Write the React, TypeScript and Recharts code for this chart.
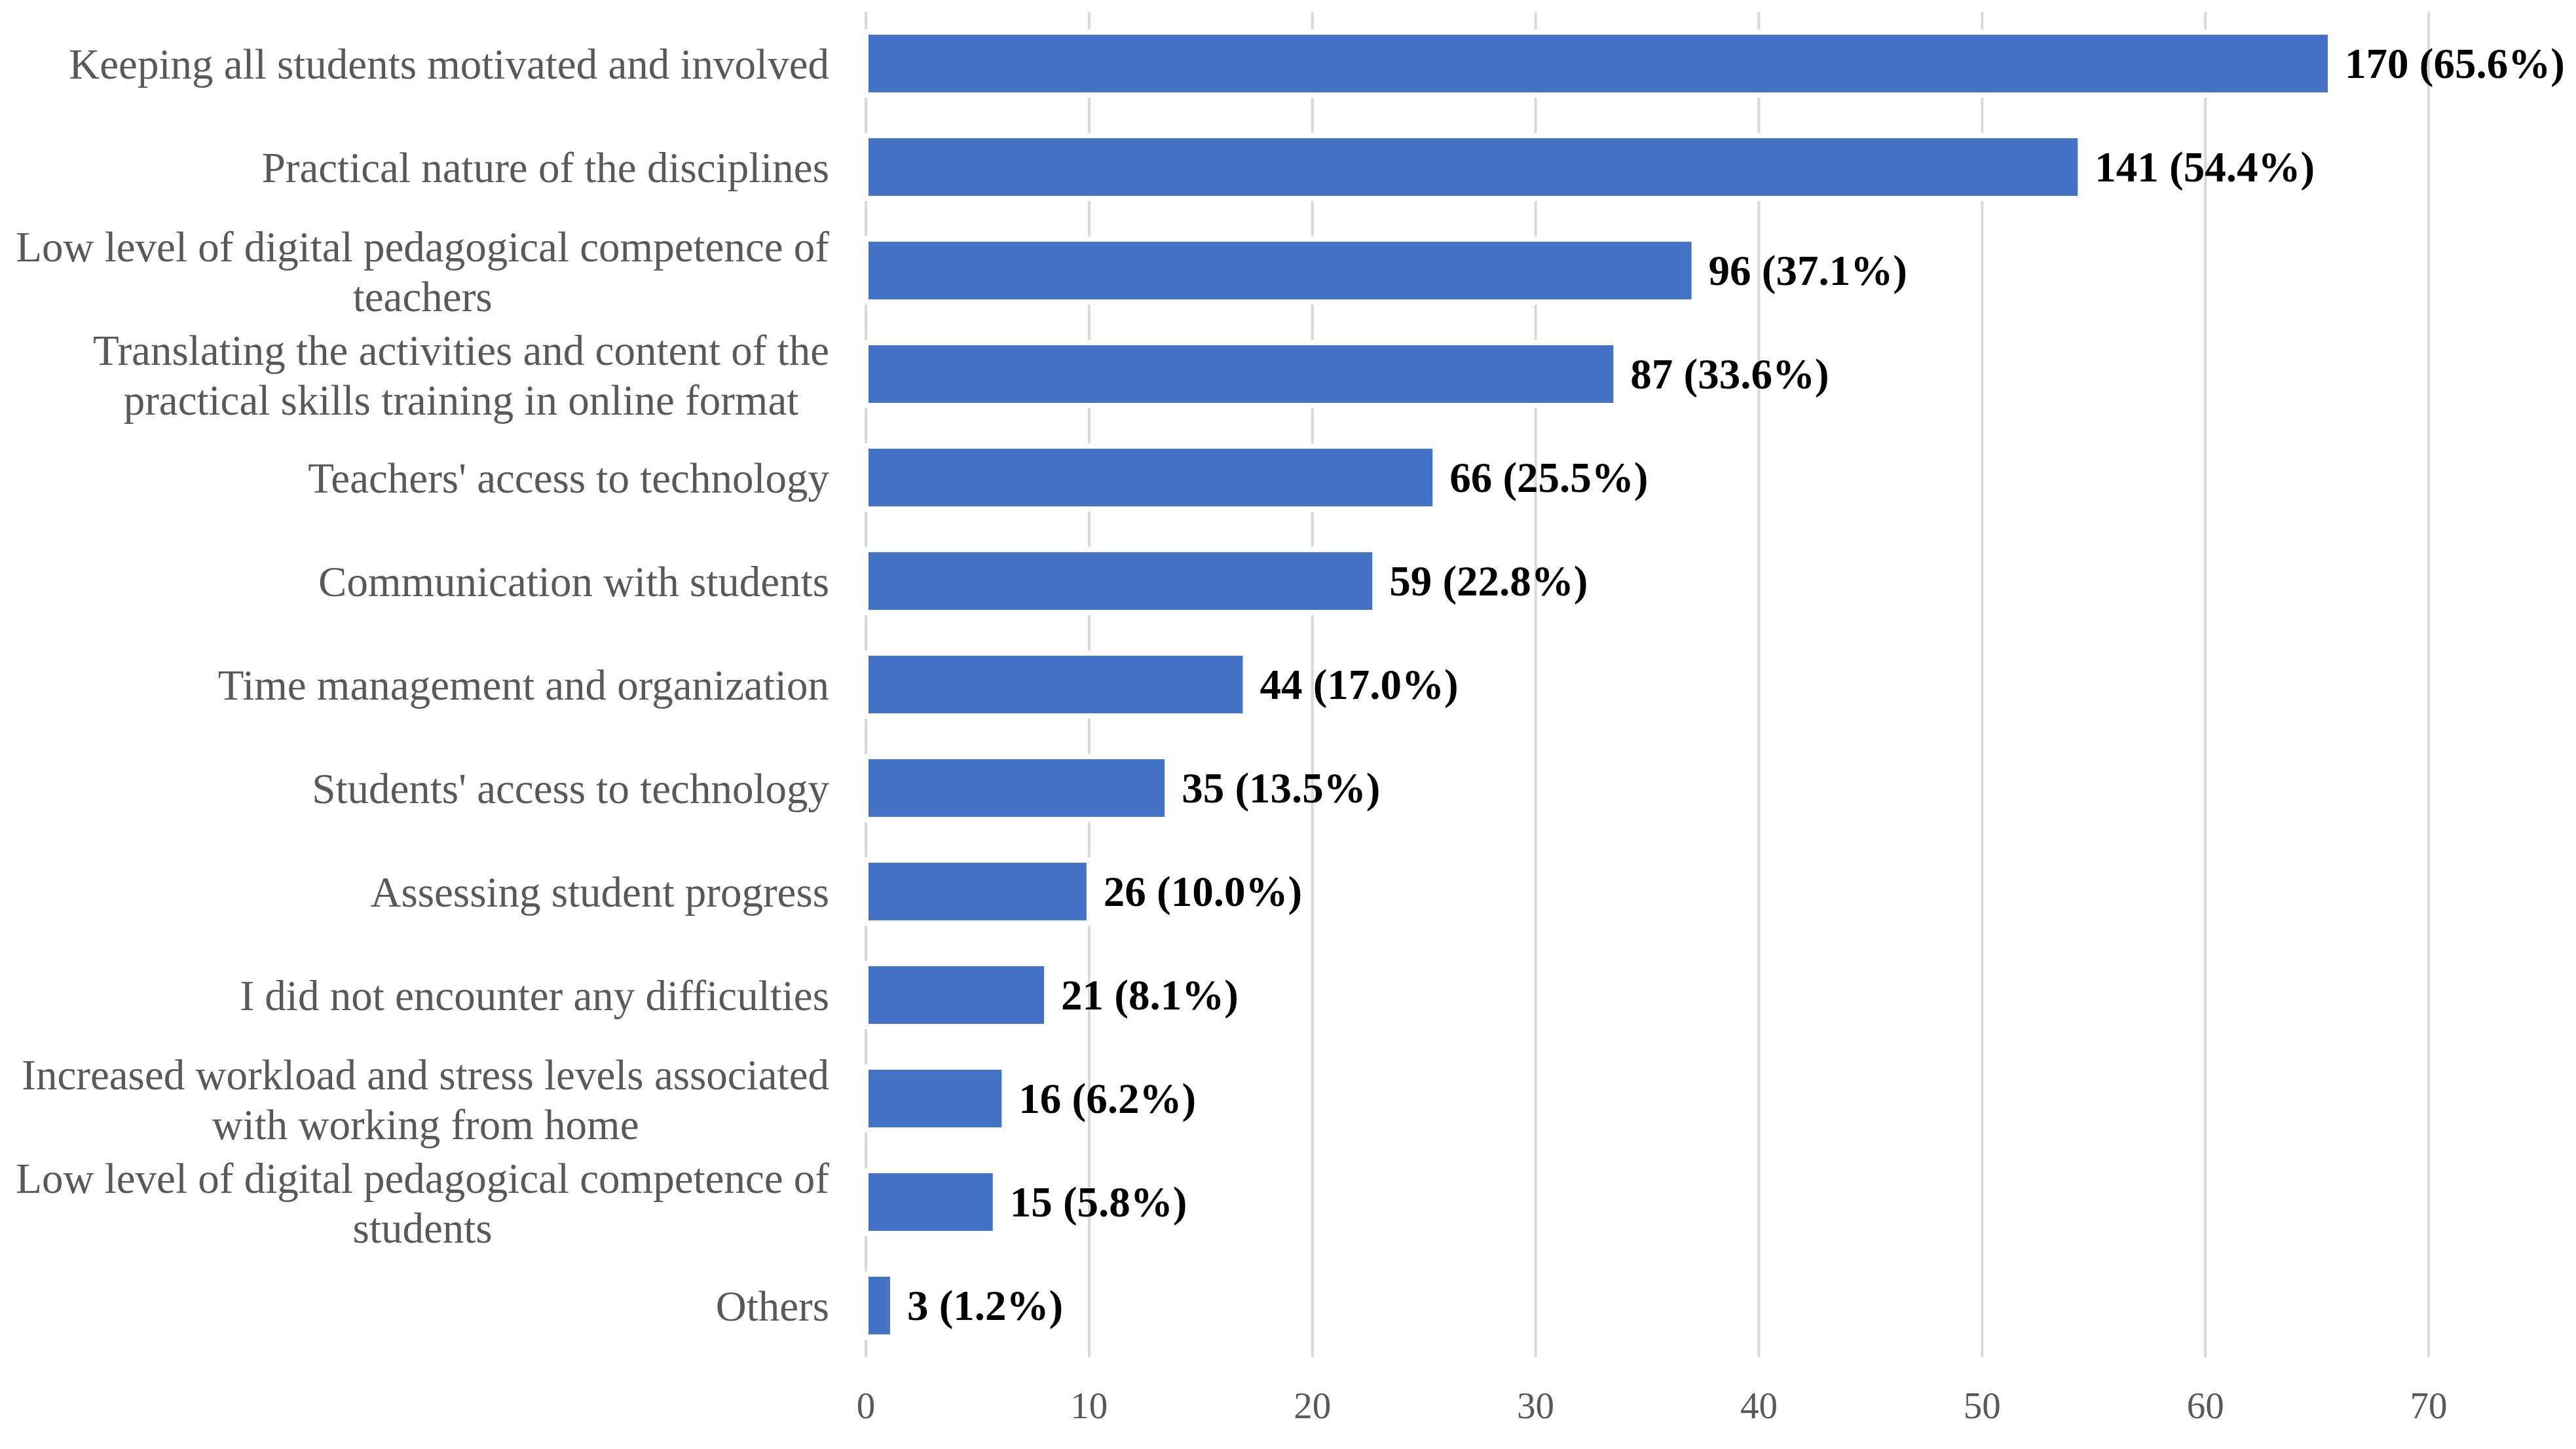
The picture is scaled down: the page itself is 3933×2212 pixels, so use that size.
import React from "react";
import { BarChart, Bar, XAxis, YAxis, CartesianGrid, LabelList } from "recharts";

const categories = [
  "Keeping all students motivated and involved",
  "Practical nature of the disciplines",
  "Low level of digital pedagogical competence of\nteachers",
  "Translating the activities and content of the\npractical skills training in online format",
  "Teachers' access to technology",
  "Communication with students",
  "Time management and organization",
  "Students' access to technology",
  "Assessing student progress",
  "I did not encounter any difficulties",
  "Increased workload and stress levels associated\nwith working from home",
  "Low level of digital pedagogical competence of\nstudents",
  "Others",
];
const counts = [170, 141, 96, 87, 66, 59, 44, 35, 26, 21, 16, 15, 3];
const percents = [65.6, 54.4, 37.1, 33.6, 25.5, 22.8, 17.0, 13.5, 10.0, 8.1, 6.2, 5.8, 1.2];
const xTicks = [0, 10, 20, 30, 40, 50, 60, 70];

const data = categories.map((name, i) => ({
  name,
  pct: percents[i],
  label: `${counts[i]} (${percents[i].toFixed(1)}%)`,
}));

const FONT = '"Liberation Serif", "Times New Roman", serif';
const CAT_SIZE = 65;

let ctx: CanvasRenderingContext2D | null = null;
function textWidth(s: string) {
  if (!ctx) ctx = document.createElement("canvas").getContext("2d");
  if (!ctx) return s.length * CAT_SIZE * 0.42;
  ctx.font = `${CAT_SIZE}px ${FONT}`;
  return ctx.measureText(s).width;
}

function CategoryTick(props: any) {
  const { x, y, payload } = props;
  const lines = String(payload.value).split("\n");
  const lineH = 76;
  const style = { fontFamily: FONT, fontSize: CAT_SIZE, fill: "#595959" };
  if (lines.length === 1) {
    return (
      <text x={x} y={y} dy={1} textAnchor="end" dominantBaseline="central" style={style}>
        {lines[0]}
      </text>
    );
  }
  const w = Math.max(...lines.map(textWidth));
  const cx = x - w / 2;
  return (
    <g>
      {lines.map((l, i) => (
        <text
          key={i}
          x={cx}
          y={y + (i - (lines.length - 1) / 2) * lineH}
          dy={2}
          textAnchor="middle"
          dominantBaseline="central"
          style={style}
        >
          {l}
        </text>
      ))}
    </g>
  );
}

function ValueLabel(props: any) {
  const { x, y, width, height, value } = props;
  return (
    <text
      x={x + width + 22}
      y={y + height / 2}
      dominantBaseline="central"
      style={{ fontFamily: FONT, fontSize: 65, fontWeight: "bold", fill: "#000000" }}
    >
      {value}
    </text>
  );
}

export default function App() {
  return (
    <div style={{ position: "absolute", left: 0, top: 0, background: "#ffffff" }}>
      <BarChart
        width={3933}
        height={2212}
        data={data}
        layout="vertical"
        margin={{ top: 18, right: 225, bottom: 110, left: 0 }}
        barSize={96}
      >
        <CartesianGrid horizontal={false} stroke="#d9d9d9" strokeWidth={4} />
        <XAxis
          type="number"
          domain={[0, 70]}
          ticks={xTicks}
          height={30}
          axisLine={false}
          tickLine={false}
          tickSize={0}
          tickMargin={53}
          tick={{ fontFamily: FONT, fontSize: 57, fill: "#595959" }}
        />
        <YAxis
          type="category"
          dataKey="name"
          width={1322}
          axisLine={false}
          tickLine={false}
          tickSize={0}
          tickMargin={56}
          interval={0}
          tick={<CategoryTick />}
        />
        <Bar dataKey="pct" fill="#4472c4" stroke="#ffffff" strokeWidth={8} isAnimationActive={false}>
          <LabelList dataKey="label" content={<ValueLabel />} />
        </Bar>
      </BarChart>
    </div>
  );
}
